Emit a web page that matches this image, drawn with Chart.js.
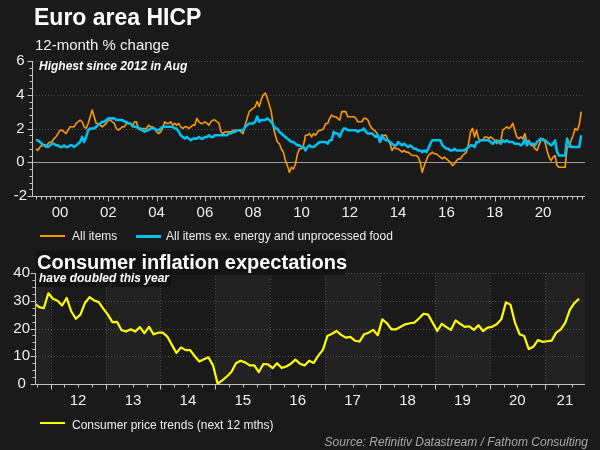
<!DOCTYPE html>
<html>
<head>
<meta charset="utf-8">
<script src="https://cdn.jsdelivr.net/npm/chart.js@4.4.0/dist/chart.umd.min.js"></script>
<style>
html,body{margin:0;padding:0;background:#1a1a1a;}
#wrap{position:relative;width:600px;height:450px;overflow:hidden;background:#1a1a1a;font-family:'Liberation Sans',Arial,sans-serif;color:#fff;}
canvas{position:absolute;left:0;}
.t{position:absolute;white-space:nowrap;line-height:1;}
.sw{position:absolute;}
.box{position:absolute;background:#131313;}
</style>
</head>
<body>
<div id="wrap">
<canvas id="c1" width="600" height="232" style="top:0px"></canvas>
<canvas id="c2" width="600" height="170" style="top:250px"></canvas>

<div class="t" style="left:34px;top:6px;font-size:23px;font-weight:bold;">Euro area HICP</div>
<div class="t" style="left:35px;top:37px;font-size:15px;color:#f2f2f2;">12-month % change</div>
<div class="t" style="left:39px;top:60px;font-size:12px;font-weight:bold;font-style:italic;">Highest since 2012 in Aug</div>

<div class="sw" style="left:40px;top:235px;width:25px;height:2px;background:#ff9900;"></div>
<div class="t" style="left:72px;top:229.5px;font-size:12px;color:#eee;">All items</div>
<div class="sw" style="left:136px;top:234.5px;width:25px;height:3px;background:#00c0f0;"></div>
<div class="t" style="left:166px;top:229.5px;font-size:12px;color:#eee;">All items ex. energy and unprocessed food</div>

<div class="box" style="left:36px;top:251px;width:309px;height:24px;"></div>
<div class="box" style="left:36px;top:275px;width:135px;height:12px;"></div>
<div class="t" style="left:37px;top:252px;font-size:20px;font-weight:bold;">Consumer inflation expectations</div>
<div class="t" style="left:39px;top:271.5px;font-size:12px;font-weight:bold;font-style:italic;">have doubled this year</div>

<div class="sw" style="left:40px;top:422px;width:25px;height:2px;background:#ffff00;"></div>
<div class="t" style="left:72px;top:418.5px;font-size:12px;color:#eee;">Consumer price trends (next 12 mths)</div>
<div class="t" style="right:12px;top:436px;font-size:12px;font-style:italic;color:#a8a8a8;">Source: Refinitiv Datastream / Fathom Consulting</div>
</div>

<script>
// ---------------- DATA ----------------
// Euro area HICP, 12-month % change, monthly from Jan 1999 to Aug 2021
const topStartYear = 1999, topStartMonth = 1;
const hicpAll = [
  0.8,0.7,0.9,1.0,1.0,0.9,1.1,1.2,1.2,1.4,1.5,1.7,
  1.9,1.9,1.8,1.7,1.9,2.1,2.1,2.1,2.3,2.4,2.5,2.4,
  2.1,2.0,2.3,2.7,3.1,2.7,2.3,2.3,2.2,2.1,2.2,2.3,
  2.5,2.5,2.4,2.3,2.0,1.9,2.0,2.1,2.1,2.3,2.3,2.3,
  2.1,2.4,2.4,2.0,1.9,2.0,2.0,2.0,2.2,2.1,2.1,2.0,
  1.8,1.7,1.8,2.0,2.4,2.3,2.3,2.4,2.2,2.3,2.2,2.3,
  2.1,2.0,2.1,2.1,2.0,2.1,2.2,2.2,2.6,2.4,2.3,2.3,
  2.4,2.3,2.2,2.4,2.5,2.5,2.4,2.3,1.8,1.7,1.8,1.8,
  1.8,1.8,1.9,1.9,1.9,1.9,1.8,1.7,2.2,2.6,3.0,3.1,
  3.2,3.3,3.6,3.3,3.7,4.0,4.1,3.8,3.4,3.0,2.1,1.6,
  1.2,1.1,0.8,0.6,0.1,-0.2,-0.6,-0.3,-0.4,-0.1,0.5,0.8,
  0.8,1.0,1.6,1.6,1.7,1.5,1.7,1.6,1.8,1.9,1.9,2.0,
  2.3,2.3,2.6,2.8,2.7,2.7,2.6,2.5,3.0,3.0,3.0,2.7,
  2.7,2.7,2.7,2.6,2.4,2.4,2.4,2.6,2.6,2.5,2.2,2.0,
  1.9,1.8,1.6,1.2,1.4,1.6,1.6,1.3,1.1,0.7,0.9,0.8,
  0.8,0.7,0.6,0.7,0.6,0.6,0.5,0.4,0.4,0.4,0.3,0.0,
  -0.6,-0.2,0.1,0.4,0.5,0.6,0.5,0.5,0.4,0.3,0.2,0.3,
  0.2,0.1,0.0,-0.2,-0.1,0.1,0.2,0.2,0.4,0.5,0.6,1.1,
  1.8,2.0,1.5,1.9,1.4,1.3,1.3,1.5,1.5,1.4,1.5,1.4,
  1.3,1.1,1.3,1.2,1.9,2.0,2.1,2.0,2.1,2.3,1.9,1.5,
  1.4,1.5,1.4,1.7,1.2,1.3,1.0,1.0,0.8,0.7,1.0,1.3,
  1.4,1.2,0.7,0.3,0.1,0.3,0.4,-0.2,-0.3,-0.3,-0.3,-0.3,
  0.9,0.9,1.3,1.6,2.0,1.9,2.2,3.0
];
const hicpCore = [
  1.3,1.3,1.2,1.1,1.0,1.0,0.9,1.0,1.1,1.1,1.0,1.0,
  0.9,0.9,1.0,0.9,0.9,1.0,1.0,0.9,1.0,1.1,1.2,1.5,
  1.2,1.5,1.9,2.0,2.0,2.0,2.1,2.2,2.3,2.4,2.4,2.5,
  2.6,2.6,2.6,2.6,2.5,2.5,2.5,2.5,2.4,2.4,2.3,2.3,
  2.2,2.1,2.1,2.0,2.0,1.9,1.8,1.9,1.9,2.0,2.0,2.0,
  1.9,1.9,2.0,2.1,2.1,2.1,2.1,2.1,2.1,2.0,2.0,1.8,
  1.6,1.5,1.4,1.5,1.4,1.3,1.4,1.4,1.4,1.5,1.4,1.4,
  1.5,1.5,1.6,1.5,1.5,1.6,1.6,1.6,1.6,1.6,1.6,1.6,
  1.7,1.7,1.8,1.8,1.9,1.9,1.9,1.9,2.1,2.2,2.3,2.3,
  2.3,2.4,2.7,2.4,2.5,2.5,2.5,2.6,2.5,2.4,2.2,2.0,
  2.0,1.8,1.7,1.6,1.5,1.4,1.3,1.2,1.2,1.1,1.0,1.0,
  0.9,0.9,0.7,0.9,1.0,0.9,0.9,1.0,1.1,1.2,1.2,1.2,
  1.2,1.1,1.3,1.3,1.8,1.7,1.7,1.5,1.8,2.0,2.0,1.9,
  1.9,1.9,1.9,1.9,1.8,1.9,1.9,2.0,1.8,1.7,1.7,1.7,
  1.6,1.5,1.6,1.2,1.6,1.4,1.3,1.3,1.2,1.1,1.0,1.0,
  1.2,1.1,1.0,1.1,1.0,0.9,1.0,0.9,0.8,0.8,0.7,0.7,
  0.6,0.7,0.6,0.8,1.1,1.3,1.3,1.3,1.3,1.3,1.0,0.9,
  0.8,0.8,0.7,0.7,0.8,0.7,0.7,0.7,0.7,0.7,0.8,0.9,
  1.0,1.0,0.9,1.2,1.2,1.3,1.3,1.3,1.3,1.3,1.2,1.1,
  1.2,1.3,1.2,1.1,1.3,1.2,1.3,1.2,1.2,1.2,1.1,1.1,
  1.1,1.0,1.1,1.4,1.0,1.2,1.1,1.1,1.0,1.2,1.3,1.4,
  1.3,1.3,1.2,1.1,1.0,1.1,1.3,0.6,0.4,0.4,0.4,0.4,
  1.4,1.1,0.9,0.9,0.9,0.9,0.9,1.6
];
const topYearLabels = ['00','02','04','06','08','10','12','14','16','18','20'];

// Consumer price trends (next 12 months), balance, monthly from Sep 2011 to Aug 2021
const expStartYear = 2011, expStartMonth = 9;
const expectations = [
  29.0,27.7,27.3,32.7,
  30.7,30.0,28.3,31.0,26.2,23.5,25.0,29.2,31.3,30.1,29.5,27.2,
  25.0,22.3,22.4,19.4,18.9,19.7,18.9,20.5,18.3,20.6,17.9,18.5,
  18.5,17.1,14.1,11.2,13.2,12.2,12.2,10.0,8.1,8.9,9.6,6.7,
  0.1,1.3,2.7,4.3,7.5,8.4,7.8,6.7,6.7,4.3,7.2,7.1,
  5.7,7.5,5.8,6.3,7.3,8.8,7.3,6.7,8.4,7.6,10.2,12.3,
  17.3,18.1,19.1,17.7,16.7,17.0,15.6,15.3,17.9,18.5,19.5,17.6,
  23.3,21.9,19.7,19.7,20.6,21.5,21.9,22.1,23.6,25.3,25.0,22.1,
  19.1,21.7,20.5,19.5,22.9,21.7,20.6,20.8,19.5,21.2,19.1,20.3,
  20.6,21.5,23.3,29.4,28.6,22.1,17.9,17.3,12.6,13.4,15.8,15.2,
  15.4,15.6,18.5,19.7,22.1,26.8,29.2,30.7
];
const bottomYearLabels = ['12','13','14','15','16','17','18','19','20','21'];

// ---------------- STYLE / LAYOUT ----------------
const ORANGE = '#ff9900', CYAN = '#00c0f0', YELLOW = '#ffff00';
const FONT = "'Liberation Sans', Arial, sans-serif";
Chart.defaults.font.family = FONT;
Chart.defaults.color = '#eeeeee';

const TOP_MIN = 1998.882, TOP_MAX = 2021.74;
const BOT_MIN = 2011.733, BOT_MAX = 2021.733;

function monthSeries(startYear, startMonth, values, offset) {
  return values.map((v, i) => ({ x: startYear + (startMonth - 1 + i + offset) / 12, y: v }));
}

function makeDeco(cfg) {
  return {
    id: 'deco',
    beforeDatasetsDraw(chart) {
      const { ctx, chartArea: a, scales: { x, y } } = chart;
      ctx.save();
      (cfg.bands || []).forEach(([s, e]) => {
        const x1 = Math.max(a.left, x.getPixelForValue(s));
        const x2 = Math.min(a.right, x.getPixelForValue(e));
        if (x2 > x1) { ctx.fillStyle = cfg.bandColor; ctx.fillRect(x1, a.top, x2 - x1, a.bottom - a.top); }
      });
      ctx.strokeStyle = '#4d4d4d'; ctx.lineWidth = 1; ctx.setLineDash([1, 2]);
      (cfg.hGrid || []).forEach(v => {
        const py = Math.round(y.getPixelForValue(v)) + 0.5;
        ctx.beginPath(); ctx.moveTo(a.left, py); ctx.lineTo(a.right, py); ctx.stroke();
      });
      (cfg.vGrid || []).forEach(v => {
        const px = Math.round(x.getPixelForValue(v)) + 0.5;
        ctx.beginPath(); ctx.moveTo(px, a.top); ctx.lineTo(px, a.bottom); ctx.stroke();
      });
      ctx.setLineDash([]);
      if (cfg.zero !== undefined) {
        const py = Math.round(y.getPixelForValue(cfg.zero)) + 0.5;
        ctx.strokeStyle = '#9a9a9a'; ctx.beginPath(); ctx.moveTo(a.left, py); ctx.lineTo(a.right, py); ctx.stroke();
      }
      ctx.strokeStyle = '#c4c4c4'; ctx.lineWidth = 1;
      const ax = Math.round(a.left) - 0.5, ay = Math.round(a.bottom) + 0.5;
      ctx.beginPath(); ctx.moveTo(ax, a.top); ctx.lineTo(ax, ay); ctx.lineTo(a.right, ay); ctx.stroke();
      const ny = Math.round((cfg.yMax - cfg.yMin) / cfg.yMinor);
      for (let i = 0; i <= ny; i++) {
        const v = cfg.yMin + i * cfg.yMinor;
        const major = Math.abs(v / cfg.yMajor - Math.round(v / cfg.yMajor)) < 1e-6;
        const py = Math.round(y.getPixelForValue(v)) + 0.5;
        ctx.beginPath(); ctx.moveTo(ax - (major ? 5 : 3), py); ctx.lineTo(ax, py); ctx.stroke();
      }
      for (let i = 0; ; i++) {
        const v = cfg.xStart + i * cfg.xMinor;
        if (v > x.max + 1e-9) break;
        if (v < x.min) continue;
        const major = cfg.isMajorX(v);
        const px = Math.round(x.getPixelForValue(v)) + 0.5;
        ctx.beginPath(); ctx.moveTo(px, ay); ctx.lineTo(px, ay + (major ? 5 : 3)); ctx.stroke();
      }
      ctx.restore();
    }
  };
}

const near = (a, b) => Math.abs(a - b) < 1e-6;

// ---------------- TOP CHART ----------------
const topLabelYears = topYearLabels.map(l => 2000 + parseInt(l, 10));
new Chart(document.getElementById('c1'), {
  type: 'line',
  data: {
    datasets: [
      { label: 'All items ex. energy and unprocessed food', data: monthSeries(topStartYear, topStartMonth, hicpCore, 0),
        borderColor: CYAN, borderWidth: 2.6, order: 0 },
      { label: 'All items', data: monthSeries(topStartYear, topStartMonth, hicpAll, 0),
        borderColor: ORANGE, borderWidth: 1.6, order: 1 }
    ]
  },
  options: {
    responsive: false, animation: false, devicePixelRatio: 1,
    layout: { padding: { top: 61, right: 15, left: 0, bottom: 0 } },
    elements: { point: { radius: 0 }, line: { tension: 0, borderJoinStyle: 'round' } },
    plugins: { legend: { display: false }, tooltip: { enabled: false } },
    scales: {
      x: {
        type: 'linear', min: TOP_MIN, max: TOP_MAX,
        grid: { display: false, drawTicks: false }, border: { display: false },
        afterBuildTicks(s) { s.ticks = topLabelYears.map(v => ({ value: v })); },
        afterFit(s) { s.height = 36; },
        ticks: { autoSkip: false, maxRotation: 0, minRotation: 0, padding: 8, color: '#eeeeee', font: { size: 15 },
          callback(v) { const i = topLabelYears.findIndex(t => near(t, v)); return i >= 0 ? topYearLabels[i] : ''; } }
      },
      y: {
        min: -2, max: 6,
        grid: { display: false, drawTicks: false }, border: { display: false },
        afterFit(s) { s.width = 33; },
        ticks: { stepSize: 2, padding: 6, crossAlign: 'center', color: '#eeeeee', font: { size: 15 } }
      }
    }
  },
  plugins: [makeDeco({
    hGrid: [2, 4, 6], zero: 0,
    yMin: -2, yMax: 6, yMinor: 0.4, yMajor: 2,
    xStart: 1999, xMinor: 0.2,
    isMajorX: v => near(v, Math.round(v)) && Math.round(v) % 2 === 0
  })]
});

// ---------------- BOTTOM CHART ----------------
const bottomLabelYears = bottomYearLabels.map(l => 2000 + parseInt(l, 10));
const bottomLabelPos = bottomLabelYears.map(yr => (Math.max(yr, BOT_MIN) + Math.min(yr + 1, BOT_MAX)) / 2);
const bands = [];
for (let yr = 2011; yr <= 2021; yr += 2) bands.push([yr, yr + 1]);
const yearLines = [];
for (let yr = 2012; yr <= 2021; yr++) yearLines.push(yr);

new Chart(document.getElementById('c2'), {
  type: 'line',
  data: {
    datasets: [
      { label: 'Consumer price trends (next 12 mths)', data: monthSeries(expStartYear, expStartMonth, expectations, 0.5),
        borderColor: YELLOW, borderWidth: 2.2 }
    ]
  },
  options: {
    responsive: false, animation: false, devicePixelRatio: 1,
    layout: { padding: { top: 23, right: 15, left: 0, bottom: 0 } },
    elements: { point: { radius: 0 }, line: { tension: 0, borderJoinStyle: 'round' } },
    plugins: { legend: { display: false }, tooltip: { enabled: false } },
    scales: {
      x: {
        type: 'linear', min: BOT_MIN, max: BOT_MAX,
        grid: { display: false, drawTicks: false }, border: { display: false },
        afterBuildTicks(s) { s.ticks = bottomLabelPos.map(v => ({ value: v })); },
        afterFit(s) { s.height = 36; },
        ticks: { autoSkip: false, maxRotation: 0, minRotation: 0, padding: 8, color: '#eeeeee', font: { size: 15 },
          callback(v) { const i = bottomLabelPos.findIndex(t => near(t, v)); return i >= 0 ? bottomYearLabels[i] : ''; } }
      },
      y: {
        min: 0, max: 40,
        grid: { display: false, drawTicks: false }, border: { display: false },
        afterFit(s) { s.width = 36; },
        ticks: { stepSize: 10, padding: 6, crossAlign: 'center', color: '#eeeeee', font: { size: 15 } }
      }
    }
  },
  plugins: [makeDeco({
    bands: bands, bandColor: '#222222',
    hGrid: [10, 20, 30, 40], vGrid: yearLines,
    yMin: 0, yMax: 40, yMinor: 2.5, yMajor: 10,
    xStart: 2011.75, xMinor: 0.25,
    isMajorX: v => near(v, Math.round(v))
  })]
});
</script>
</body>
</html>
